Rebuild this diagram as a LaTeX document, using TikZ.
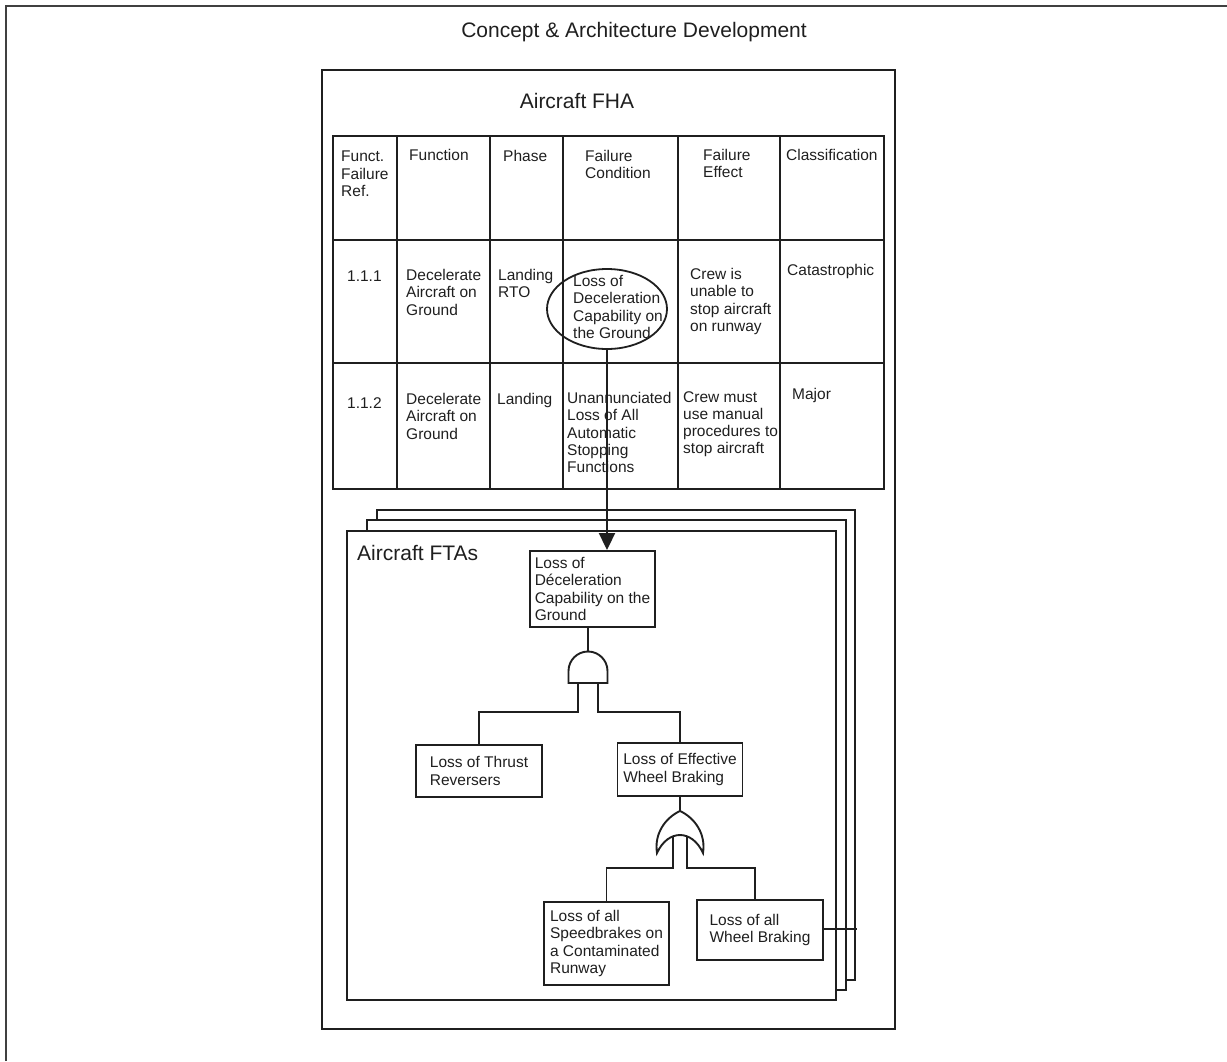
\documentclass[tikz,border=0pt]{standalone}
\usepackage{fontspec}
\setmainfont{Liberation Sans}
\usetikzlibrary{shapes.geometric,arrows.meta}
\newcommand\celltxt{\fontsize{15.5}{17.3}\selectfont}
\newcommand\headtxt{\fontsize{21}{25}\selectfont}
\colorlet{ink}{black!88}
\begin{document}
\begin{tikzpicture}[x=1pt,y=1pt,
  rule/.style={line width=1.8pt, draw=ink},
  cell/.style={anchor=north west, inner sep=0pt, align=left, font=\celltxt, text=ink},
  evt/.style={draw=ink, line width=1.9pt, align=left, inner sep=0pt, font=\celltxt, text=ink, fill=white},
  gate/.style={draw=ink, line width=1.9pt, fill=white},
  wire/.style={draw=ink, line width=1.9pt},
  sheet/.style={draw=ink, line width=1.8pt, fill=white},
  title/.style={font=\headtxt, text=ink, inner sep=0pt}]
\useasboundingbox (0,0) rectangle (1227,-1061);
% page rules (top and left only)
\draw[line width=2pt, black!75] (5.5,-1061) -- (5.5,-5.5) -- (1227,-5.5);

\node[title] (cad) at (634,-32) {Concept \& Architecture Development};

% container for the development phase
\draw[rule] (322,-70) rectangle (895,-1029);
\node[title] (fha) at (577,-101) {Aircraft FHA};

% FHA table grid
\draw[rule] (333,-136) rectangle (884,-489);
\foreach \y in {240,363} \draw[rule] (333,-\y) -- (884,-\y);
\foreach \x in {397,490,563,678,780} \draw[rule] (\x,-136) -- (\x,-489);

% header row
\node[cell] (h1) at (341,-151) {Funct.\\Failure\\Ref.};
\node[cell] (h2) at (409,-149) {Function};
\node[cell] (h3) at (503,-150) {Phase};
\node[cell] (h4) at (585,-150) {Failure\\Condition};
\node[cell] (h5) at (703,-149) {Failure\\Effect};
\node[cell] (h6) at (786,-149) {Classification};

% row 1.1.1
\node[cell] (a1) at (347,-271) {1.1.1};
\node[cell] (a2) at (406,-269) {Decelerate\\Aircraft on\\Ground};
\node[cell] (a3) at (498,-269) {Landing\\RTO};
\node[cell] (a4) at (573,-275) {Loss of\\Deceleration\\Capability on\\the Ground};
\node[cell] (a5) at (690,-268) {Crew is\\unable to\\stop aircraft\\on runway};
\node[cell] (a6) at (787,-264) {Catastrophic};

% row 1.1.2
\node[cell] (b1) at (347,-397) {1.1.2};
\node[cell] (b2) at (406,-393) {Decelerate\\Aircraft on\\Ground};
\node[cell] (b3) at (497,-393) {Landing};
\node[cell] (b4) at (567,-392) {Unannunciated\\Loss of All\\Automatic\\Stopping\\Functions};
\node[cell] (b5) at (683,-391) {Crew must\\use manual\\procedures to\\stop aircraft};
\node[cell] (b6) at (792,-388) {Major};

% highlighted failure condition
\node[draw=ink, line width=1.8pt, ellipse, minimum width=120pt, minimum height=80pt, inner sep=0pt] (fc) at (607,-309) {};

% stack of fault tree sheets
\draw[sheet] (377,-510) rectangle (855,-980);
\draw[sheet] (367,-520) rectangle (846,-990);
\draw[sheet] (347,-531) rectangle (836,-1000);
\node[title, anchor=west] (ftas) at (357,-553) {Aircraft FTAs};

% fault tree events
\node[evt, minimum width=125pt, minimum height=76pt] (top) at (592.5,-589) {Loss of\\Déceleration\\Capability on the\\Ground};
\node[evt, minimum width=126pt, minimum height=52pt] (thrust) at (479,-771) {Loss of Thrust\\Reversers};
\node[evt, minimum width=125pt, minimum height=53pt] (web) at (680,-769.5) {Loss of Effective\\Wheel Braking};
\node[evt, minimum width=125pt, minimum height=83pt] (sb) at (606.5,-943.5) {Loss of all\\Speedbrakes on\\a Contaminated\\Runway};
\node[evt, minimum width=126pt, minimum height=60pt] (wb) at (760,-930) {Loss of all\\Wheel Braking};

% AND gate
\coordinate (andout) at (588,-651.5);
\coordinate (andinL) at (578,-683);
\coordinate (andinR) at (598,-683);
\draw[gate] (568.5,-683) -- (568.5,-671) arc[start angle=180, end angle=0, radius=19.5pt] -- (607.5,-683) -- cycle;

% OR gate
\coordinate (orout) at (680,-811);
\coordinate (orinL) at (673,-836);
\coordinate (orinR) at (687,-836);
\draw[gate] (657,-853) .. controls (654,-834) and (665,-818) .. (680,-811)
  .. controls (695,-818) and (706,-834) .. (703,-853)
  .. controls (692,-829) and (668,-829) .. (657,-853) -- cycle;

% fault tree wiring
\draw[wire] (top.south -| andout) -- (andout);
\draw[wire] (andinL) -- ++(0,-29) -| (thrust.north);
\draw[wire] (andinR) -- ++(0,-29) -| (web.north);
\draw[wire] (web.south) -- (orout);
\draw[wire] (orinL) -- ++(0,-32) -| (sb.north);
\draw[wire] (orinR) -- ++(0,-32) -| ([xshift=-5pt]wb.north);
\coordinate (stubend) at (857,-929);
\draw[wire, line width=1.3pt] (wb.east |- stubend) -- (stubend);

% link from the FHA failure condition to the top event
\draw[wire, -{Triangle[width=16pt,length=17pt]}] (fc.south) -- (fc.south |- top.north);
\end{tikzpicture}
\end{document}
